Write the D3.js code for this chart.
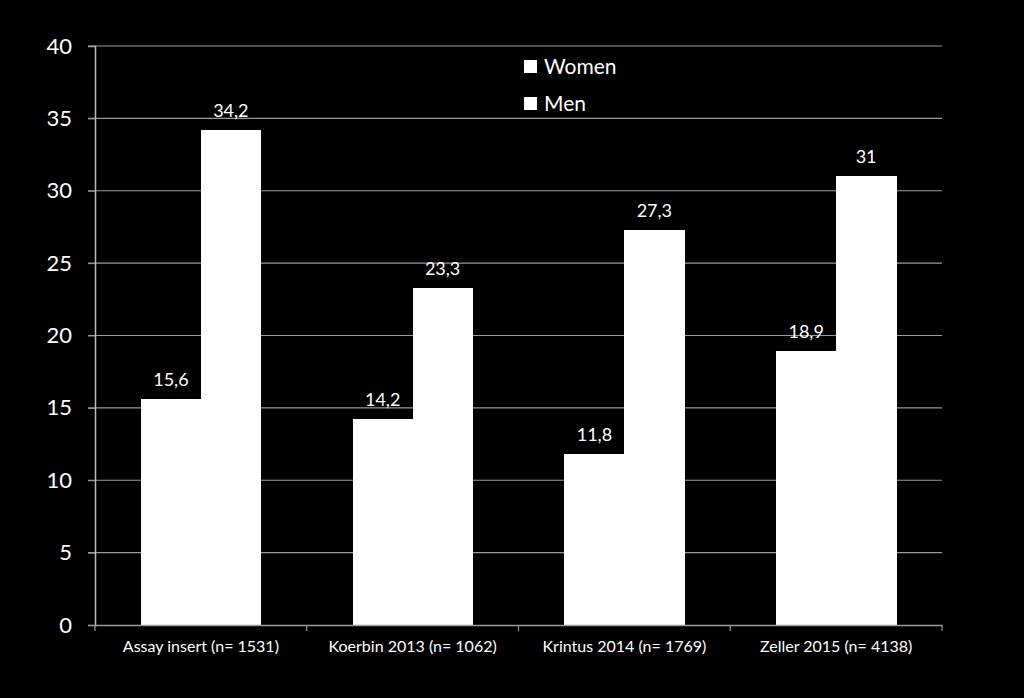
<!DOCTYPE html>
<html>
  <head>
    <meta charset="utf-8">
    <script src="https://d3js.org/d3.v7.min.js"></script>
    <style>
     body { margin: 0; background: #000; }
     text { font-family: Lato, "Open Sans", sans-serif; fill: #fff; }
    </style>
  </head>
  <body>
    <svg id="chart"></svg>
    <script>
     var categories = ["Assay insert (n= 1531)", "Koerbin 2013 (n= 1062)", "Krintus 2014 (n= 1769)", "Zeller 2015 (n= 4138)"];
     var series = ["Women", "Men"];
     var women = [15.6, 14.2, 11.8, 18.9];
     var men = [34.2, 23.3, 27.3, 31];
     var womenLabels = ["15,6", "14,2", "11,8", "18,9"];
     var menLabels = ["34,2", "23,3", "27,3", "31"];
     var yTicks = [0, 5, 10, 15, 20, 25, 30, 35, 40];

     var W = 1024, H = 698;
     var margin = {top: 46, right: 82, bottom: 73, left: 95}
       , width = W - margin.left - margin.right
       , height = H - margin.top - margin.bottom;

     var svg = d3.select("#chart").attr("width", W).attr("height", H)
       .append("g").attr("transform", "translate(" + margin.left + "," + margin.top + ")");

     var x = d3.scaleBand().domain(categories).range([0, width]).paddingInner(0).paddingOuter(0);
     var xs = d3.scaleBand().domain(series).range([x.bandwidth() * 0.217, x.bandwidth() * 0.783]);
     var y = d3.scaleLinear().domain([0, 40]).range([height, 0]);

     // gridlines
     svg.selectAll(".grid").data(yTicks.filter(function(d) { return d > 0; })).enter()
       .append("line")
       .attr("x1", -7).attr("x2", width)
       .attr("y1", function(d) { return y(d); }).attr("y2", function(d) { return y(d); })
       .attr("stroke", "#9a9a9a").attr("stroke-width", 1.2);

     var rows = categories.map(function(c, i) {
       return [{c: c, s: "Women", v: women[i], l: womenLabels[i]},
               {c: c, s: "Men", v: men[i], l: menLabels[i]}];
     });
     var flat = [].concat.apply([], rows);

     svg.selectAll(".bar").data(flat).enter().append("rect")
       .attr("x", function(d) { return x(d.c) + xs(d.s); })
       .attr("width", xs.bandwidth() + 0.5)
       .attr("y", function(d) { return y(d.v); })
       .attr("height", function(d) { return height - y(d.v); })
       .attr("fill", "#fff")
       .attr("shape-rendering", "crispEdges");

     svg.selectAll(".lbl").data(flat).enter().append("text")
       .attr("x", function(d) { return x(d.c) + xs(d.s) + xs.bandwidth() / 2; })
       .attr("y", function(d) { return y(d.v) - 13; })
       .attr("text-anchor", "middle")
       .style("font-size", "18px")
       .text(function(d) { return d.l; });

     // y axis
     var yAxis = svg.append("g").call(d3.axisLeft(y).tickValues(yTicks).tickSize(7).tickPadding(16));
     yAxis.select(".domain").attr("stroke", "#bbb").attr("stroke-width", 1.5);
     yAxis.selectAll(".tick line").attr("stroke", "#9a9a9a");
     yAxis.selectAll("text").style("font-size", "22px").attr("fill", "#fff");

     // x axis
     var xAxis = svg.append("g").attr("transform", "translate(0," + height + ")")
       .call(d3.axisBottom(x).tickSize(0).tickPadding(16));
     xAxis.select(".domain").attr("stroke", "#9a9a9a").attr("stroke-width", 1.5);
     xAxis.selectAll("text").style("font-size", "16px").attr("fill", "#fff");
     svg.selectAll(".xtick").data(categories.map(function(c) { return x(c); }).concat([width])).enter()
       .append("line")
       .attr("x1", function(d) { return d; }).attr("x2", function(d) { return d; })
       .attr("y1", height).attr("y2", height + 6)
       .attr("stroke", "#9a9a9a").attr("stroke-width", 1.2);

     // legend
     var legend = svg.selectAll(".leg").data(series).enter().append("g")
       .attr("transform", function(d, i) { return "translate(" + (524 - margin.left) + "," + (60 - margin.top + i * 37) + ")"; });
     legend.append("rect").attr("width", 13).attr("height", 13).attr("fill", "#fff");
     legend.append("text").attr("x", 20).attr("y", 14).style("font-size", "21px").text(function(d) { return d; });
    </script>
  </body>
</html>
